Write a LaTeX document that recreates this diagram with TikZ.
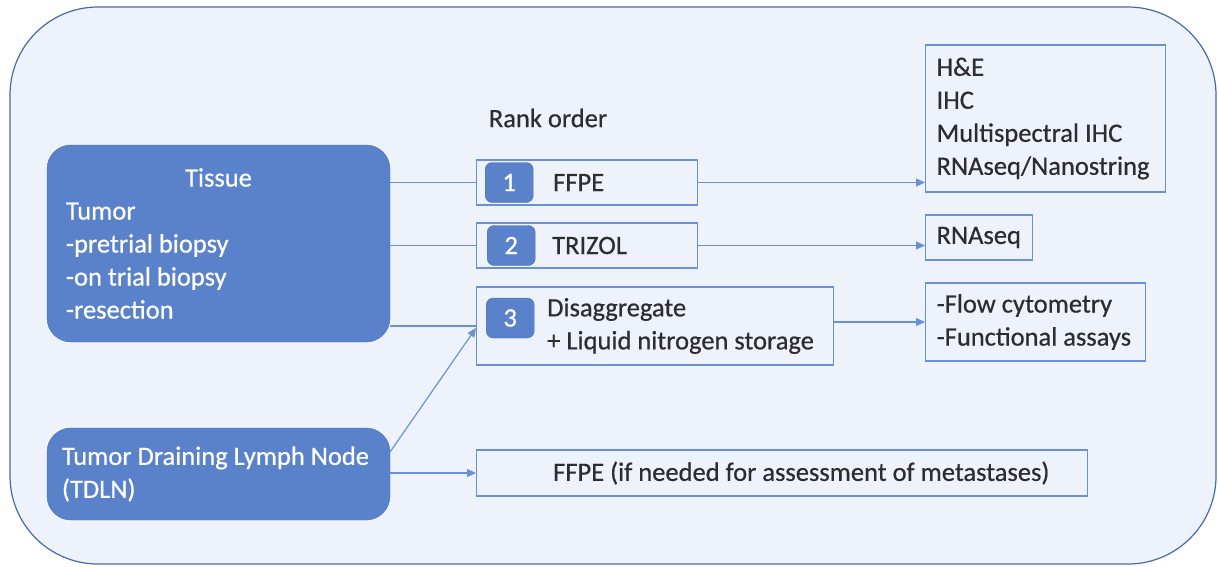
\documentclass[tikz,border=0pt]{standalone}
\usepackage{fontspec}
\setmainfont{Carlito}[FakeBold=0.6]
\usepackage{tikz}
\usetikzlibrary{arrows.meta, positioning}
\definecolor{bgblue}{RGB}{238,242,250}
\definecolor{frameblue}{RGB}{72,106,166}
\definecolor{fillblue}{RGB}{90,130,202}
\definecolor{lineblue}{RGB}{106,145,216}
\definecolor{txtgray}{RGB}{45,45,48}

\begin{document}
\begin{tikzpicture}[
    x=1pt, y=-1pt,
    font=\fontsize{26.5}{33}\selectfont,
    every node/.style={text=txtgray},
    srcbox/.style={rectangle, draw=fillblue!85!black, fill=fillblue,
                   rounded corners=24pt, text=white, align=flush left,
                   inner xsep=0pt, inner ysep=0pt},
    rankbox/.style={rectangle, draw=lineblue, line width=1.2pt,
                    inner sep=0pt, anchor=west},
    badge/.style={rectangle, draw=fillblue!85!black, fill=fillblue,
                  rounded corners=7pt, text=white,
                  minimum width=48pt, minimum height=40pt, anchor=west},
    outbox/.style={rectangle, draw=lineblue, line width=1.2pt,
                   align=flush left, inner xsep=11pt, inner ysep=0pt,
                   anchor=west},
    link/.style={draw=lineblue, line width=1.2pt},
    arr/.style={link, -{Triangle[length=9pt, width=8pt]}},
  ]
    \useasboundingbox (0,0) rectangle (1218,566);
    \draw[frameblue, fill=bgblue, line width=1.2pt, rounded corners=88pt]
      (10,7) rectangle (1216,564);

    % sources
    \node[srcbox, minimum width=343pt, minimum height=197pt,
          text width=305pt] (tissue) at (218.5,243.5)
      {\makebox[305pt]{Tissue}\\ Tumor\\ -pretrial biopsy\\
       -on trial biopsy\\ -resection};
    \node[srcbox, minimum width=343pt, minimum height=92pt,
          text width=313pt] (tdln) at (218.5,474)
      {Tumor Draining Lymph Node\\ (TDLN)};

    \node (rank) at (548,118) {Rank order};

    % rank order boxes
    \node[rankbox, minimum width=221pt, minimum height=45pt] (ffpe)
      at (476,182.5) {};
    \node[badge, right=9pt of ffpe.west] (b1) {1};
    \node[anchor=west, inner sep=0pt] (ffpetxt)
      at ([xshift=77pt]ffpe.west) {FFPE};

    \node[rankbox, minimum width=221pt, minimum height=45pt] (trizol)
      at (476,245.5) {};
    \node[badge, right=11pt of trizol.west] (b2) {2};
    \node[anchor=west, inner sep=0pt] (trizoltxt)
      at ([xshift=76pt]trizol.west) {TRIZOL};

    \node[rankbox, minimum width=357pt, minimum height=78pt] (disagg)
      at (476,326) {};
    \node[badge, right=10pt of disagg.west, yshift=8pt] (b3) {3};
    \node[anchor=west, inner sep=0pt, align=flush left] (disaggtxt)
      at ([xshift=71pt]disagg.west) {Disaggregate\\ + Liquid nitrogen storage};

    \node[rankbox, minimum width=611pt, minimum height=46pt] (meta)
      at (476,473) {};
    \node[anchor=west, inner sep=0pt] (metatxt)
      at ([xshift=77pt]meta.west)
      {FFPE (if needed for assessment of metastases)};

    % assays
    \node[outbox, text width=218pt, minimum height=147pt] (assayA)
      at (925,118.5) {H\&E\\ IHC\\ Multispectral IHC\\ RNAseq/Nanostring};
    \node[outbox, text width=85pt, minimum height=45pt] (assayB)
      at (925,237.5) {RNAseq};
    \node[outbox, text width=198pt, minimum height=78pt] (assayC)
      at (925,322) {-Flow cytometry\\ -Functional assays};

    % connectors
    \draw[link] (tissue.east |- ffpe.west) -- (ffpe.west);
    \draw[link] (tissue.east |- trizol.west) -- (trizol.west);
    \draw[link] (tissue.east |- disagg.west) -- (disagg.west);
    \draw[arr] ([yshift=-24pt]tdln.north east) -- ([yshift=-2pt]disagg.west);
    \draw[arr] (tdln.east |- meta.west) -- (meta.west);
    \draw[arr] (ffpe.east) -- (ffpe.east -| assayA.west);
    \draw[arr] (trizol.east) -- (trizol.east -| assayB.west);
    \draw[arr] (disagg.east |- assayC.west) -- (assayC.west);
  \end{tikzpicture}
\end{document}
